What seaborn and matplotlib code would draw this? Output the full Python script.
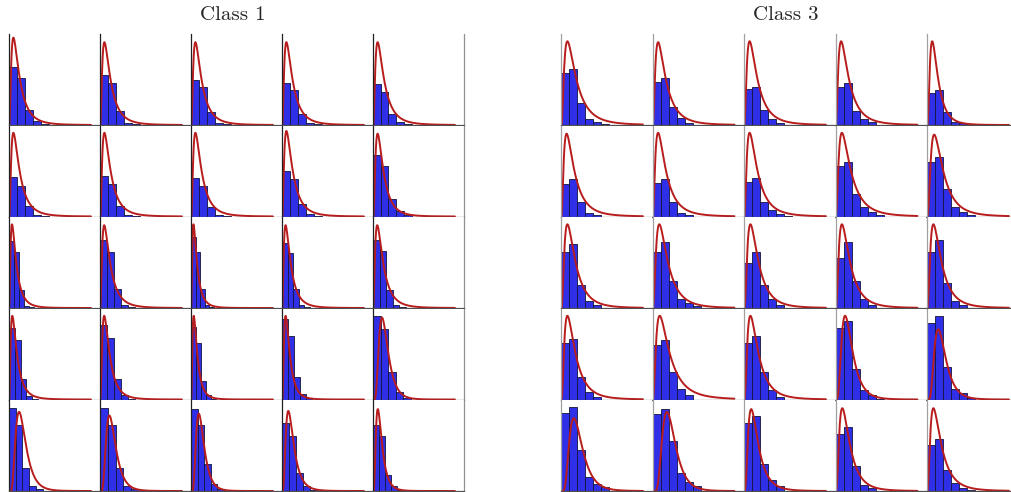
import numpy as np
import pandas as pd
import matplotlib
matplotlib.use("Agg")
import matplotlib.pyplot as plt
import seaborn as sns

# bar heights per panel (fraction of panel height), rows top->bottom, cols left->right
class1_bars = [
    [0.64, 0.52, 0.17, 0.04, 0.01], [0.55, 0.46, 0.15, 0.02, 0.01], [0.50, 0.42, 0.14, 0.02, 0.01],
    [0.46, 0.38, 0.12, 0.02, 0.01], [0.45, 0.36, 0.12, 0.03, 0.01],
    [0.43, 0.34, 0.12, 0.02, 0.01], [0.44, 0.36, 0.12, 0.02, 0.01], [0.42, 0.34, 0.10, 0.02, 0.01],
    [0.50, 0.41, 0.14, 0.03, 0.01], [0.68, 0.56, 0.19, 0.06, 0.02],
    [0.74, 0.61, 0.20, 0.02, 0.01], [0.75, 0.61, 0.21, 0.03, 0.01], [0.78, 0.62, 0.21, 0.03, 0.01],
    [0.71, 0.60, 0.21, 0.03, 0.01], [0.75, 0.63, 0.20, 0.03, 0.01],
    [0.79, 0.65, 0.22, 0.04, 0.01], [0.82, 0.68, 0.23, 0.05, 0.01], [0.80, 0.62, 0.20, 0.05, 0.01],
    [0.88, 0.70, 0.25, 0.06, 0.02], [0.92, 0.78, 0.30, 0.08, 0.02],
    [0.91, 0.73, 0.25, 0.05, 0.02], [0.91, 0.73, 0.25, 0.05, 0.02], [0.90, 0.72, 0.30, 0.08, 0.02],
    [0.75, 0.60, 0.20, 0.05, 0.01], [0.72, 0.60, 0.18, 0.05, 0.01],
]
# bin width of each panel's histogram, in pixels of a 91 px panel
class1_binpx = [8.0, 8.0, 8.0, 8.0, 7.7,
                8.0, 8.0, 8.0, 8.0, 7.7,
                5.0, 7.0, 4.5, 5.5, 6.5,
                5.8, 7.0, 5.0, 6.0, 7.5,
                6.7, 7.8, 6.5, 7.0, 6.0]
class1_peak_x = [0.55, 0.55, 0.55, 0.55, 0.6,
                 0.55, 0.55, 0.55, 0.55, 0.6,
                 0.6, 0.6, 0.55, 0.65, 0.65,
                 0.57, 0.6, 0.55, 0.6, 1.2,
                 1.5, 1.2, 1.2, 0.9, 0.8]
class1_peak_y = [0.96, 0.91, 0.91, 0.91, 0.91,
                 0.92, 0.92, 0.92, 0.94, 0.91,
                 0.92, 0.91, 0.92, 0.91, 0.91,
                 0.92, 0.92, 0.92, 0.92, 0.90,
                 0.87, 0.83, 0.85, 0.88, 0.90]
class1_sigma = [0.8, 0.8, 0.8, 0.8, 0.8,
                0.8, 0.8, 0.8, 0.8, 0.75,
                0.8, 0.8, 0.8, 0.8, 0.8,
                0.8, 0.75, 0.75, 0.7, 0.5,
                0.5, 0.5, 0.5, 0.6, 0.6]

class3_bars = [
    [0.57, 0.62, 0.24, 0.07, 0.03, 0.01], [0.47, 0.52, 0.20, 0.08, 0.02], [0.40, 0.42, 0.17, 0.07, 0.02],
    [0.42, 0.46, 0.15, 0.07, 0.03], [0.35, 0.38, 0.14, 0.03, 0.02],
    [0.36, 0.41, 0.16, 0.04, 0.02], [0.37, 0.41, 0.16, 0.04, 0.02], [0.38, 0.42, 0.16, 0.07, 0.03, 0.01],
    [0.55, 0.60, 0.25, 0.10, 0.05, 0.02], [0.60, 0.65, 0.30, 0.10, 0.05, 0.02],
    [0.62, 0.70, 0.25, 0.08, 0.03], [0.62, 0.72, 0.30, 0.10, 0.05, 0.02], [0.50, 0.62, 0.25, 0.10, 0.03],
    [0.55, 0.72, 0.30, 0.10, 0.03], [0.62, 0.75, 0.28, 0.08, 0.03],
    [0.62, 0.67, 0.25, 0.08, 0.03], [0.60, 0.65, 0.30, 0.12, 0.05], [0.62, 0.70, 0.30, 0.10, 0.03],
    [0.79, 0.86, 0.34, 0.10, 0.05, 0.01], [0.84, 0.92, 0.36, 0.11, 0.07, 0.02],
    [0.86, 0.92, 0.45, 0.15, 0.08, 0.04], [0.85, 0.90, 0.55, 0.20, 0.10, 0.05], [0.75, 0.82, 0.30, 0.12, 0.05],
    [0.63, 0.70, 0.27, 0.07, 0.03], [0.51, 0.57, 0.23, 0.09, 0.03, 0.01],
]
class3_binpx = [8.0] * 25
class3_peak_x = [0.8, 0.7, 0.7, 0.7, 0.65,
                 0.7, 0.7, 0.7, 0.8, 0.9,
                 0.8, 0.85, 0.8, 0.8, 0.8,
                 0.8, 0.9, 0.8, 1.2, 1.4,
                 1.6, 1.8, 0.9, 0.85, 0.8]
class3_peak_y = [0.92, 0.91, 0.92, 0.92, 0.92,
                 0.91, 0.92, 0.92, 0.92, 0.90,
                 0.92, 0.92, 0.92, 0.92, 0.92,
                 0.92, 0.92, 0.92, 0.92, 0.77,
                 0.80, 0.87, 0.90, 0.91, 0.91]
class3_sigma = [0.8, 0.8, 0.8, 0.8, 0.7,
                0.8, 0.8, 0.8, 0.8, 0.75,
                0.75, 0.75, 0.75, 0.75, 0.75,
                0.75, 0.8, 0.75, 0.55, 0.5,
                0.5, 0.45, 0.65, 0.7, 0.75]

titles = ["Class 1", "Class 3"]

sns.set_style("white")
fig = plt.figure(figsize=(10.11, 4.92), dpi=100)
W, H = 1011.0, 492.0
PANEL = 91.0


def draw_panel(ax, bars, binpx, px, py, s, spine_col):
    n = len(bars)
    xmax = PANEL / binpx
    df = pd.DataFrame({"x": np.arange(n) + 0.5, "w": bars})
    sns.histplot(data=df, x="x", weights="w", binwidth=1, binrange=(0, n), ax=ax,
                 color="#2f2fe8", edgecolor="#14143c", linewidth=0.6, alpha=1.0)
    # fitted log-normal curve, scaled to the peak
    mu = np.log(px) + s ** 2
    xs = np.linspace(0.02, 0.9 * xmax, 300)
    f = np.exp(-(np.log(xs) - mu) ** 2 / (2 * s ** 2)) / xs
    fm = np.exp(-(np.log(px) - mu) ** 2 / (2 * s ** 2)) / px
    sns.lineplot(x=xs, y=py * f / fm, ax=ax, color="#b81c1c", linewidth=1.4)
    ax.set_xlim(0, xmax)
    ax.set_ylim(0, 1)
    ax.set_xticks([])
    ax.set_yticks([])
    ax.set_xlabel("")
    ax.set_ylabel("")
    ax.spines["top"].set_visible(False)
    ax.spines["right"].set_visible(False)
    ax.spines["left"].set_color(spine_col)
    ax.spines["left"].set_linewidth(0.9)
    ax.spines["bottom"].set_color("#505050")
    ax.spines["bottom"].set_linewidth(0.9)


grids = [
    (9.0, 91.0, class1_bars, class1_binpx, class1_peak_x, class1_peak_y, class1_sigma, "#202020"),
    (561.0, 91.5, class3_bars, class3_binpx, class3_peak_x, class3_peak_y, class3_sigma, "#a0a0a0"),
]
for g, (x0, dx, bars, bpx, pxs, pys, sig, col) in enumerate(grids):
    for r in range(5):
        for c in range(5):
            k = r * 5 + c
            left = x0 + dx * c
            bottom = 125.0 + 91.5 * r
            ax = fig.add_axes([left / W, 1 - bottom / H, PANEL / W, PANEL / H])
            draw_panel(ax, bars[k], bpx[k], pxs[k], pys[k], sig[k], col)
            if g == 0 and c == 4:
                ax.spines["right"].set_visible(True)
                ax.spines["right"].set_color("#909090")
                ax.spines["right"].set_linewidth(0.9)

fig.text(233 / W, 1 - 15 / H, titles[0], ha="center", va="center", fontsize=15, fontfamily="cmr10")
fig.text(786 / W, 1 - 15 / H, titles[1], ha="center", va="center", fontsize=15, fontfamily="cmr10")

fig.savefig("out.png", dpi=100)
